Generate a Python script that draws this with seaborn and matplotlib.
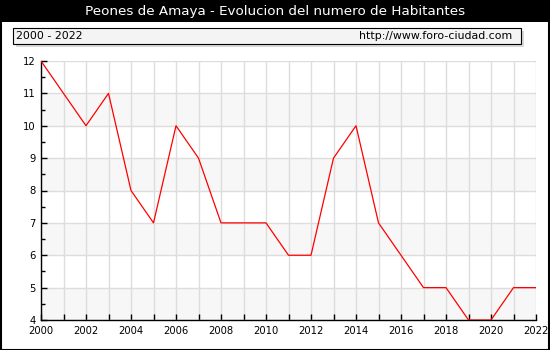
import matplotlib
matplotlib.use("Agg")
import matplotlib.pyplot as plt
from matplotlib.patches import Rectangle
from matplotlib.ticker import MultipleLocator
import seaborn as sns
import pandas as pd

years = list(range(2000, 2023))
habitantes = [12, 11, 10, 11, 8, 7, 10, 9, 7, 7, 7, 6, 6, 9, 10, 7, 6, 5, 5, 4, 4, 5, 5]
title = "Peones de Amaya - Evolucion del numero de Habitantes"
period = "2000 - 2022"
url = "http://www.foro-ciudad.com"

sns.set_style("white")
plt.rcParams["font.family"] = ["DejaVu Sans"]

W, H = 550, 350
fig = plt.figure(figsize=(W / 100, H / 100), dpi=100)
fig.patch.set_facecolor("white")

# outer frame and title band
fig.add_artist(Rectangle((0.5 / W, 0.5 / H), 1 - 1.5 / W, 1 - 1.5 / H, transform=fig.transFigure,
                         fill=False, edgecolor="black", linewidth=1.5))
fig.add_artist(Rectangle((0, 1 - 22 / H), 1, 22 / H, transform=fig.transFigure,
                         facecolor="black", edgecolor="none"))
fig.text(0.5, 1 - 11.5 / H, title, color="white", ha="center", va="center", fontsize=9.7)

# period / source box with shadow
fig.add_artist(Rectangle((16 / W, 1 - 47 / H), 508 / W, 16 / H, transform=fig.transFigure,
                         facecolor="#d8d8d8", edgecolor="none"))
fig.add_artist(Rectangle((13 / W, 1 - 44 / H), 508 / W, 16 / H, transform=fig.transFigure,
                         facecolor="#f4f4f4", edgecolor="black", linewidth=0.8))
fig.text(16 / W, 1 - 36 / H, period, ha="left", va="center", fontsize=7.9, color="black")
fig.text(512 / W, 1 - 36 / H, url, ha="right", va="center", fontsize=7.9, color="black")

ax = fig.add_axes([41 / W, 1 - 320 / H, 495 / W, 259 / H])
ax.set_facecolor("white")

# alternating horizontal bands
for lo in range(4, 12, 2):
    ax.axhspan(lo, lo + 1, color="#f7f7f7", zorder=0, linewidth=0)

df = pd.DataFrame({"year": years, "hab": habitantes})
sns.lineplot(data=df, x="year", y="hab", ax=ax, color="#ff0000", linewidth=0.9, zorder=3)

ax.set_xlim(2000, 2022)
ax.set_ylim(4, 12)
ax.xaxis.set_major_locator(MultipleLocator(2))
ax.xaxis.set_minor_locator(MultipleLocator(1))
ax.yaxis.set_major_locator(MultipleLocator(1))
ax.yaxis.set_minor_locator(MultipleLocator(0.5))
ax.grid(True, which="major", axis="y", color="#dddddd", linewidth=1, zorder=1)
ax.grid(True, which="both", axis="x", color="#dddddd", linewidth=1, zorder=1)
ax.set_axisbelow(True)

ax.tick_params(axis="both", which="both", direction="in", colors="black", width=1,
               labelsize=7.2, labelcolor="black", bottom=True, left=True,
               top=False, right=False)
ax.tick_params(axis="both", which="major", length=4, pad=4)
ax.tick_params(axis="x", which="minor", length=4)
ax.tick_params(axis="y", which="minor", length=3)
ax.set_xlabel("")
ax.set_ylabel("")

for side in ("top", "right"):
    ax.spines[side].set_visible(False)
for side in ("left", "bottom"):
    ax.spines[side].set_color("black")
    ax.spines[side].set_linewidth(1)

fig.savefig("out.png", dpi=100)
